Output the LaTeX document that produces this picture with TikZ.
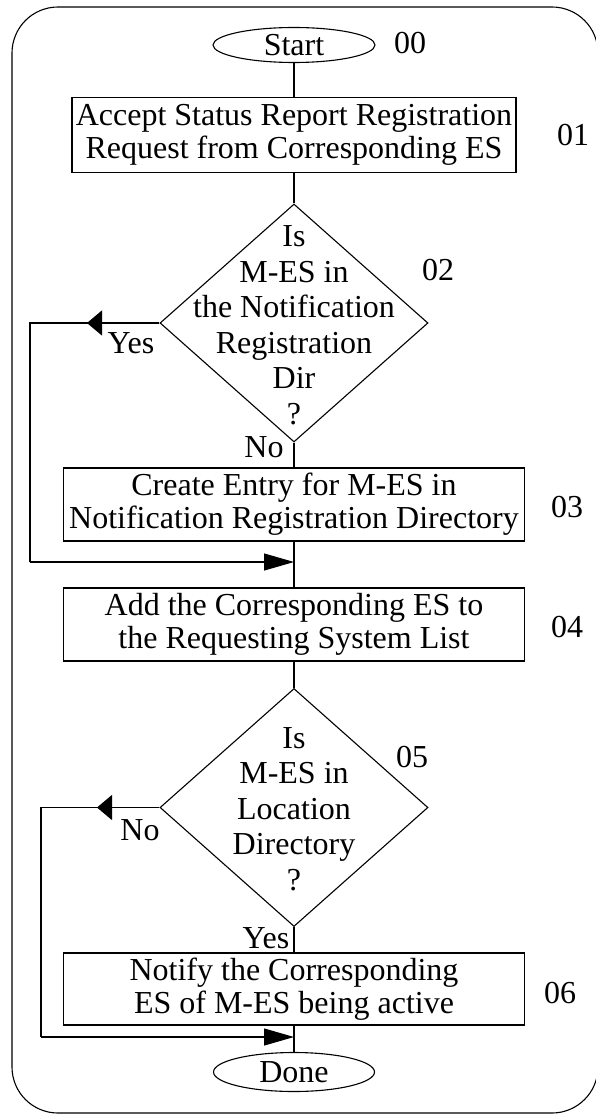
\documentclass[tikz,border=0pt]{standalone}
\usepackage{fontspec}
\setmainfont{Liberation Serif}
\usetikzlibrary{shapes.geometric,arrows.meta}
\begin{document}
\begin{tikzpicture}[x=1pt,y=-1pt, font=\fontsize{32}{33}\selectfont, line width=1.1pt,
 procbox/.style={draw, rectangle, minimum height=73pt, inner sep=0pt, align=center},
 term/.style={draw, ellipse, inner sep=0pt},
 decision/.style={draw, diamond, inner sep=0pt, minimum width=268pt, minimum height=238pt},
 dtext/.style={align=center, inner sep=0pt, font=\fontsize{32}{35.5}\selectfont},
 lbl/.style={inner sep=0pt},
 tipL/.style={-{Triangle[length=15pt,width=25pt]}},
 tipR/.style={-{Triangle[length=30pt,width=17pt]}}]
\path[use as bounding box] (0,0) rectangle (595,1115);
\draw[rounded corners=46pt] (12,7) rectangle (598,1113);

\node[term, minimum width=162pt, minimum height=35pt] (start) at (294,45) {Start};
\node[lbl] (n00) at (410,43) {00};
\node[procbox, minimum width=444pt, minimum height=75pt] (b1) at (294,135) {Accept Status Report Registration\\Request from Corresponding ES};
\node[lbl] (n01) at (573,135) {01};
\node[decision] (d2) at (294,323) {};
\node[dtext] (d2t) at (294,325) {Is\\M-ES in\\the Notification\\Registration\\Dir\\?};
\node[lbl] (n02) at (438,270) {02};
\node[lbl] (yes1) at (131,343) {Yes};
\node[lbl] (no1) at (264,447) {No};
\node[procbox, minimum width=461pt] (b3) at (294,504.5) {Create Entry for M-ES in\\Notification Registration Directory};
\node[lbl] (n03) at (567,507) {03};
\coordinate (j1) at (294,562);
\coordinate (yc1) at (30,323);
\coordinate (yc2) at (30,562);
\coordinate (ya1) at (87,323);
\node[procbox, minimum width=461pt] (b4) at (294,624.5) {Add the Corresponding ES to\\the Requesting System List};
\node[lbl] (n04) at (567,627) {04};
\node[decision] (d5) at (294,807.5) {};
\node[dtext] (d5t) at (294,809) {Is\\M-ES in\\Location\\Directory\\?};
\node[lbl] (n05) at (412,757) {05};
\node[lbl] (no2) at (140,830) {No};
\node[lbl] (yes2) at (266,938) {Yes};
\node[procbox, minimum width=461pt, minimum height=72pt] (b6) at (294,989) {Notify the Corresponding\\ES of M-ES being active};
\node[lbl] (n06) at (560,993) {06};
\coordinate (j2) at (294,1037);
\coordinate (nc1) at (41,807.5);
\coordinate (nc2) at (41,1037);
\coordinate (na1) at (97,807.5);
\node[term, minimum width=161pt, minimum height=39pt] (done) at (294,1072) {Done};

\draw (start) -- (b1);
\draw (b1) -- (d2);
\draw (d2) -- (b3);
\draw (b3) -- (b4);
\draw (b4) -- (d5);
\draw (d5) -- (b6);
\draw (b6) -- (done);
\draw (d2.west) -- (yc1) -- (yc2);
\draw[tipR] (yc2) -- (j1);
\draw[tipL] (d2.west) -- (ya1);
\draw (d5.west) -- (nc1) -- (nc2);
\draw[tipR] (nc2) -- (j2);
\draw[tipL] (d5.west) -- (na1);
\end{tikzpicture}
\end{document}
